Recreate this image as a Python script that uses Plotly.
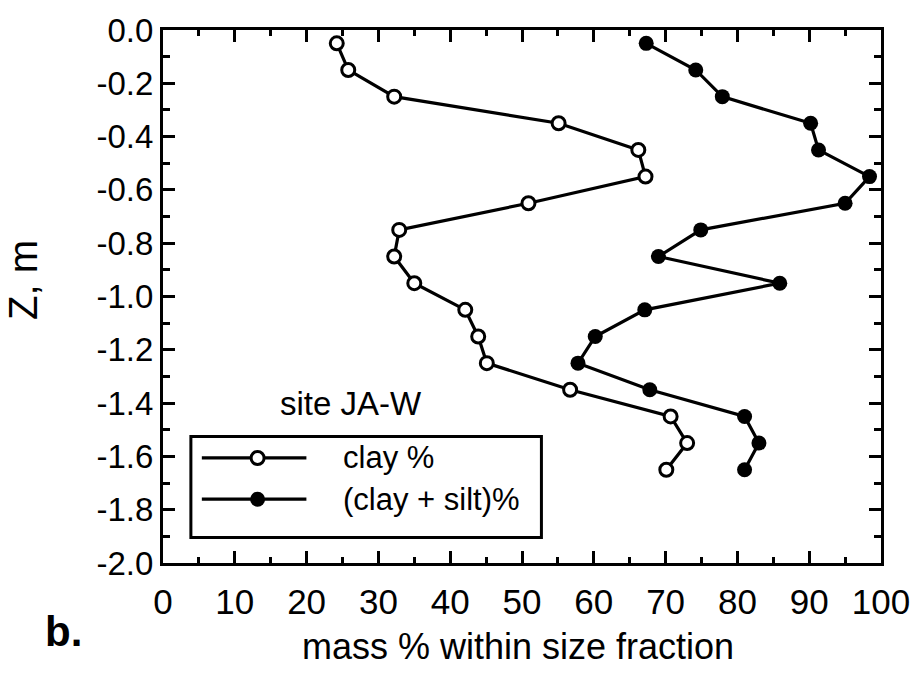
import plotly.graph_objects as go

# Depth below surface (m) and particle-size fractions at site JA-W
depth_m = [-0.05, -0.15, -0.25, -0.35, -0.45, -0.55, -0.65, -0.75, -0.85,
           -0.95, -1.05, -1.15, -1.25, -1.35, -1.45, -1.55, -1.65]
clay_pct = [24.2, 25.8, 32.2, 55.1, 66.2, 67.2, 50.9, 32.9, 32.2,
            35.0, 42.1, 43.9, 45.1, 56.7, 70.7, 73.0, 70.1]
clay_silt_pct = [67.3, 74.2, 77.9, 90.2, 91.3, 98.4, 95.0, 74.9, 69.0,
                 85.9, 67.1, 60.2, 57.8, 67.8, 81.0, 83.0, 81.0]

x_ticks = [0, 10, 20, 30, 40, 50, 60, 70, 80, 90, 100]
y_ticks = [0.0, -0.2, -0.4, -0.6, -0.8, -1.0, -1.2, -1.4, -1.6, -1.8, -2.0]
series_names = ["clay %", "(clay + silt)%"]

W, H = 922, 673
L, R, T, B = 163, 38, 20, 110
FONT = "Liberation Sans, Arial, Helvetica, sans-serif"
INK = "black"
LW = 3.2

fig = go.Figure()

open_marker = dict(symbol="circle", size=13, color="white", line=dict(width=3, color=INK))
solid_marker = dict(symbol="circle", size=15, color=INK, line=dict(width=0))

fig.add_trace(go.Scatter(x=clay_pct, y=depth_m, mode="lines+markers",
                         line=dict(color=INK, width=LW), marker=open_marker,
                         name=series_names[0], showlegend=False))
fig.add_trace(go.Scatter(x=clay_silt_pct, y=depth_m, mode="lines+markers",
                         line=dict(color=INK, width=LW), marker=solid_marker,
                         name=series_names[1], showlegend=False))

# Hand-built legend box (paper coordinates from pixel positions)
pw, ph = W - L - R, H - T - B


def px(xp):
    return (xp - L) / pw


def py(yp):
    return 1 - (yp - T) / ph


shapes = [dict(type="rect", xref="paper", yref="paper",
               x0=px(191), x1=px(543), y0=py(537), y1=py(434),
               line=dict(color=INK, width=3), layer="below")]
rows = [456, 498]
for yrow in rows:
    shapes.append(dict(type="line", xref="paper", yref="paper",
                       x0=px(202), x1=px(307), y0=py(yrow), y1=py(yrow),
                       line=dict(color=INK, width=LW), layer="below"))

fig.add_trace(go.Scatter(x=[px(258)], y=[py(rows[0])], xaxis="x2", yaxis="y2",
                         mode="markers", showlegend=False, hoverinfo="skip",
                         marker=open_marker))
fig.add_trace(go.Scatter(x=[px(258)], y=[py(rows[1])], xaxis="x2", yaxis="y2",
                         mode="markers", showlegend=False, hoverinfo="skip",
                         marker=solid_marker))

annotations = []
for name, yrow in zip(series_names, rows):
    annotations.append(dict(text=name, xref="paper", yref="paper", x=px(342), y=py(yrow),
                            xanchor="left", yanchor="middle", showarrow=False,
                            font=dict(family=FONT, size=31, color=INK)))
annotations += [
    dict(text="site JA-W", xref="paper", yref="paper", x=px(352), y=py(401),
         xanchor="center", yanchor="middle", showarrow=False,
         font=dict(family=FONT, size=33, color=INK)),
    dict(text="mass % within size fraction", xref="paper", yref="paper",
         x=px(519), y=py(648), xanchor="center", yanchor="middle", showarrow=False,
         font=dict(family=FONT, size=36, color=INK)),
    dict(text="Z, m", xref="paper", yref="paper", x=px(23), y=py(275),
         xanchor="center", yanchor="middle", showarrow=False, textangle=-90,
         font=dict(family=FONT, size=40, color=INK)),
    dict(text="<b>b.</b>", xref="paper", yref="paper", x=px(63), y=py(633),
         xanchor="center", yanchor="middle", showarrow=False,
         font=dict(family=FONT, size=42, color=INK)),
]

axis_common = dict(showgrid=False, zeroline=False, showline=True, linecolor=INK,
                   linewidth=3, mirror="ticks", ticks="inside", tickcolor=INK,
                   tickwidth=2.8)

fig.update_layout(
    width=W, height=H,
    margin=dict(l=L, r=R, t=T, b=B, pad=0),
    paper_bgcolor="white", plot_bgcolor="white",
    xaxis=dict(range=[0, 100], tickvals=x_ticks, ticktext=[str(v) for v in x_ticks],
               ticklen=12, tickfont=dict(family=FONT, size=35, color=INK),
               ticklabelstandoff=6,
               minor=dict(dtick=5, ticklen=6, ticks="inside", tickcolor=INK, tickwidth=2.8),
               **axis_common),
    yaxis=dict(range=[-2.0, 0.0], tickvals=y_ticks, ticktext=[f"{v:.1f}" for v in y_ticks],
               ticklen=12, tickfont=dict(family=FONT, size=33, color=INK),
               minor=dict(dtick=0.1, ticklen=7, ticks="inside", tickcolor=INK, tickwidth=2.8),
               **axis_common),
    xaxis2=dict(range=[0, 1], overlaying="x", visible=False, fixedrange=True),
    yaxis2=dict(range=[0, 1], overlaying="y", visible=False, fixedrange=True),
    shapes=shapes,
    annotations=annotations,
    showlegend=False,
)

fig.write_html("out.html")
